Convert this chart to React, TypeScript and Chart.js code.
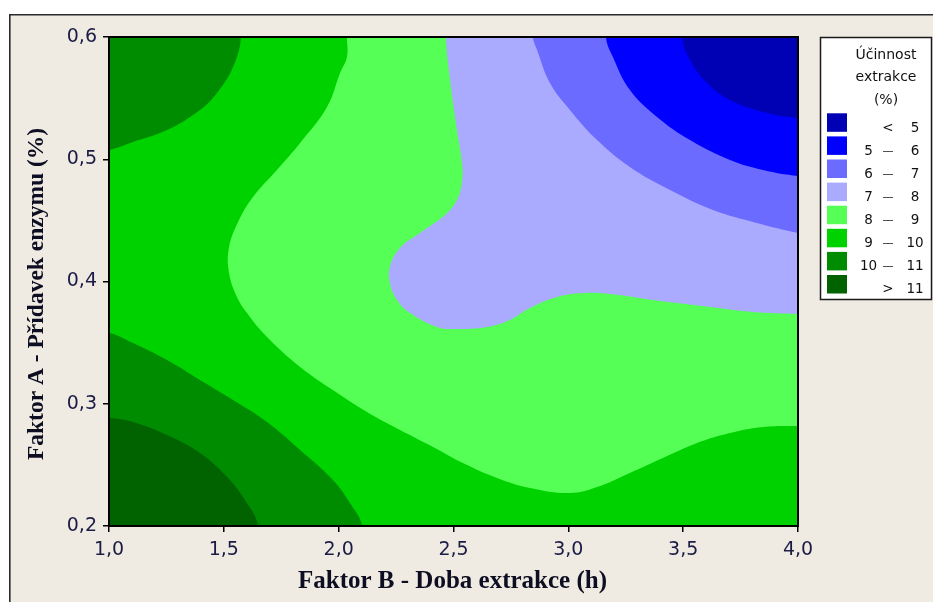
import React, { useEffect, useRef } from 'react';
import { Chart, registerables } from 'chart.js';

Chart.register(...registerables);

type Pt = [number, number];

// ---- data -------------------------------------------------------------
const LEVELS = [5, 6, 7, 8, 9, 10, 11];
const BAND_COLORS = ['#0000B4', '#0000FF', '#6B6BFF', '#AAAAFF', '#55FF55', '#00D200', '#008C00', '#006300'];
const LEGEND_TITLE = ['Účinnost', 'extrakce', '(%)'];
const X_TITLE = 'Faktor B - Doba extrakce (h)';
const Y_TITLE = 'Faktor A - Přídavek enzymu (%)';
const X_MIN = 1.0, X_MAX = 4.0, X_STEP = 0.5;
const Y_MIN = 0.2, Y_MAX = 0.6, Y_STEP = 0.1;

// contour regions (x = doba extrakce, y = přídavek enzymu)
const FIELD_9_10: Pt[] = [[0.7, 0.1], [0.65, 0.7], [4.3, 0.7], [4.3, 0.1]];
const OVER_10_LOW: Pt[] = [
  [0.7, 0.1], [0.65, 0.15], [0.85, 0.36], [1.0, 0.3579], [1.104, 0.3497], [1.253, 0.3358], [1.396, 0.3194],
  [1.540, 0.3031], [1.688, 0.2851], [1.832, 0.2622], [1.975, 0.2376], [2.049, 0.2188], [2.102, 0.2],
  [2.12, 0.15], [4.3, 0.1],
];
const OVER_11_LOW: Pt[] = [
  [0.7, 0.1], [0.65, 0.15], [0.85, 0.2885], [1.0, 0.2883], [1.104, 0.2851], [1.253, 0.2744], [1.396, 0.2597],
  [1.514, 0.2401], [1.583, 0.2237], [1.650, 0.2], [1.665, 0.15], [4.3, 0.1],
];
const OVER_10_HIGH: Pt[] = [
  [0.7, 0.75], [0.65, 0.7], [0.85, 0.504], [1.0, 0.5076], [1.104, 0.5141], [1.253, 0.5239], [1.396, 0.5403],
  [1.470, 0.5542], [1.540, 0.5755], [1.575, 0.6], [1.575, 0.65], [4.3, 0.75],
];
const UNDER_9: Pt[] = [
  [0.7, 0.75], [0.65, 0.7], [2.036, 0.65], [2.036, 0.6], [2.036, 0.5836], [2.006, 0.5706], [1.949, 0.5427],
  [1.832, 0.5133], [1.731, 0.4912], [1.627, 0.4691], [1.562, 0.4487], [1.522, 0.4274], [1.522, 0.4078],
  [1.553, 0.389], [1.601, 0.3742], [1.688, 0.3546], [1.832, 0.3301], [1.975, 0.3112], [2.123, 0.2933],
  [2.267, 0.2785], [2.411, 0.2646], [2.541, 0.2515], [2.689, 0.2393], [2.833, 0.2311], [3.007, 0.227],
  [3.125, 0.2319], [3.268, 0.2434], [3.412, 0.2556], [3.560, 0.2679], [3.704, 0.2761], [3.848, 0.281],
  [4.0, 0.2818], [4.15, 0.2818], [4.3, 0.75],
];
const UNDER_8: Pt[] = [
  [0.7, 0.75], [0.65, 0.7], [2.467, 0.65], [2.467, 0.6], [2.485, 0.5648], [2.515, 0.5239], [2.537, 0.4969],
  [2.537, 0.4814], [2.515, 0.4667], [2.463, 0.4544], [2.354, 0.4397], [2.267, 0.4274], [2.223, 0.4119],
  [2.223, 0.3988], [2.254, 0.3849], [2.311, 0.3742], [2.428, 0.3628], [2.498, 0.3611], [2.646, 0.3628],
  [2.746, 0.3685], [2.833, 0.3783], [2.951, 0.3873], [3.064, 0.3906], [3.181, 0.3898], [3.369, 0.3849],
  [3.586, 0.38], [3.804, 0.3751], [4.0, 0.3734], [4.15, 0.3725], [4.3, 0.75],
];
const UNDER_7: Pt[] = [
  [0.7, 0.75], [0.65, 0.7], [2.846, 0.65], [2.846, 0.6], [2.864, 0.5894], [2.920, 0.5624], [3.007, 0.5403],
  [3.125, 0.5157], [3.268, 0.4937], [3.443, 0.4748], [3.630, 0.4585], [3.821, 0.4479], [4.0, 0.4397],
  [4.15, 0.434], [4.3, 0.75],
];
const UNDER_6: Pt[] = [
  [0.7, 0.75], [0.65, 0.7], [3.164, 0.65], [3.164, 0.6], [3.194, 0.5836], [3.268, 0.5566], [3.386, 0.5346],
  [3.530, 0.5157], [3.704, 0.4994], [3.848, 0.4912], [4.0, 0.4863], [4.15, 0.485], [4.3, 0.75],
];
const UNDER_5: Pt[] = [
  [0.7, 0.75], [0.65, 0.7], [3.495, 0.65], [3.495, 0.6], [3.530, 0.5812], [3.604, 0.5624], [3.704, 0.5485],
  [3.848, 0.5387], [4.0, 0.5337], [4.15, 0.533], [4.3, 0.75],
];

// bottom -> top, band = index into BAND_COLORS
const LAYERS: { pts: Pt[]; band: number; smooth: boolean }[] = [
  { pts: FIELD_9_10, band: 5, smooth: false },
  { pts: OVER_10_LOW, band: 6, smooth: true },
  { pts: OVER_11_LOW, band: 7, smooth: true },
  { pts: OVER_10_HIGH, band: 6, smooth: true },
  { pts: UNDER_9, band: 4, smooth: true },
  { pts: UNDER_8, band: 3, smooth: true },
  { pts: UNDER_7, band: 2, smooth: true },
  { pts: UNDER_6, band: 1, smooth: true },
  { pts: UNDER_5, band: 0, smooth: true },
];

const fmt = (v: number | string) => Number(v).toFixed(1).replace('.', ',');

const decorPlugin = {
  id: 'decor',
  beforeDraw(chart: any) {
    const { ctx, width, height } = chart;
    ctx.save();
    ctx.fillStyle = '#FFFFFF';
    ctx.fillRect(0, 0, width, height);
    ctx.fillStyle = '#EFEBE2';
    ctx.fillRect(9, 14, width - 9, height - 14);
    ctx.strokeStyle = '#2A2A2A';
    ctx.lineWidth = 1.6;
    ctx.beginPath();
    ctx.moveTo(9.8, height);
    ctx.lineTo(9.8, 14.8);
    ctx.lineTo(width, 14.8);
    ctx.stroke();
    ctx.restore();
  },
  afterDraw(chart: any) {
    const { ctx, chartArea: a } = chart;
    ctx.save();
    // plot frame
    ctx.strokeStyle = '#000';
    ctx.lineWidth = 2;
    ctx.strokeRect(a.left, a.top, a.right - a.left, a.bottom - a.top);

    // axis titles
    ctx.fillStyle = '#0E0E22';
    ctx.textAlign = 'center';
    ctx.textBaseline = 'middle';
    ctx.font = 'bold 25px "Liberation Serif"';
    ctx.fillText(X_TITLE, (a.left + a.right) / 2 - 1, 582);
    ctx.save();
    ctx.font = 'bold 23.5px "Liberation Serif"';
    ctx.translate(37, 294);
    ctx.rotate(-Math.PI / 2);
    ctx.fillText(Y_TITLE, 0, 0);
    ctx.restore();

    // legend
    const lx = 820, ly = 37, lw = 111, lh = 262;
    ctx.fillStyle = '#FFFFFF';
    ctx.fillRect(lx, ly, lw, lh);
    ctx.strokeStyle = '#1A1A1A';
    ctx.lineWidth = 1.5;
    ctx.strokeRect(lx + 0.5, ly + 0.5, lw, lh);

    ctx.fillStyle = '#111111';
    ctx.font = '14px "DejaVu Sans"';
    ctx.textAlign = 'center';
    ctx.textBaseline = 'middle';
    LEGEND_TITLE.forEach((t, i) => ctx.fillText(t, 886, 55 + i * 22.5));

    ctx.textBaseline = 'alphabetic';
    BAND_COLORS.forEach((c, i) => {
      const top = 113.3 + i * 23.1;
      ctx.fillStyle = c;
      ctx.fillRect(827, top, 20, 18.5);
      ctx.fillStyle = '#111111';
      const base = top + 18.3;
      ctx.font = '13.5px "DejaVu Sans"';
      if (i === 0) {
        ctx.fillText('<', 888, base);
        ctx.fillText(String(LEVELS[0]), 915, base);
      } else if (i === BAND_COLORS.length - 1) {
        ctx.fillText('>', 888, base);
        ctx.fillText(String(LEVELS[LEVELS.length - 1]), 915, base);
      } else {
        ctx.fillText(String(LEVELS[i - 1]), 868.5, base);
        ctx.fillText(String(LEVELS[i]), 915, base);
        ctx.font = '11px "DejaVu Sans"';
        ctx.fillText('—', 888, base - 1);
      }
    });
    ctx.restore();
  },
};

export default function App() {
  const ref = useRef<HTMLCanvasElement | null>(null);
  useEffect(() => {
    if (!ref.current) return;
    const n = LAYERS.length;
    const chart = new Chart(ref.current, {
      type: 'line',
      data: {
        datasets: LAYERS.map((L, i) => ({
          data: L.pts.map(([x, y]) => ({ x, y })),
          backgroundColor: BAND_COLORS[L.band],
          borderColor: BAND_COLORS[L.band],
          borderWidth: 0,
          pointRadius: 0,
          pointHoverRadius: 0,
          fill: 'shape',
          tension: L.smooth ? 0.4 : 0,
          order: n - i,
        })) as any,
      },
      options: {
        animation: false,
        responsive: false,
        events: [],
        layout: { padding: { top: 37, right: 135, left: 0, bottom: 0 } },
        plugins: { legend: { display: false }, tooltip: { enabled: false }, title: { display: false } },
        scales: {
          x: {
            type: 'linear',
            min: X_MIN,
            max: X_MAX,
            ticks: {
              stepSize: X_STEP,
              callback: (v: any) => fmt(v),
              font: { family: 'DejaVu Sans', size: 19 },
              color: '#1B1B45',
              padding: 7,
              maxRotation: 0,
              autoSkip: false,
            },
            grid: { drawOnChartArea: false, drawTicks: true, tickLength: 6, color: '#000', lineWidth: 1.5 },
            border: { display: true, color: '#000', width: 2 },
            afterFit: (s: any) => { s.height = 76; },
          },
          y: {
            type: 'linear',
            min: Y_MIN,
            max: Y_MAX,
            ticks: {
              stepSize: Y_STEP,
              callback: (v: any) => fmt(v),
              font: { family: 'DejaVu Sans', size: 19 },
              color: '#1B1B45',
              padding: 6,
              autoSkip: false,
            },
            grid: { drawOnChartArea: false, drawTicks: true, tickLength: 6, color: '#000', lineWidth: 1.5 },
            border: { display: true, color: '#000', width: 2 },
            afterFit: (s: any) => { s.width = 109; },
          },
        },
      },
      plugins: [decorPlugin],
    });
    return () => chart.destroy();
  }, []);

  return (
    <div style={{ position: 'absolute', left: 0, top: 0, width: 933, height: 602 }}>
      <canvas ref={ref} width={933} height={602} style={{ display: 'block', width: 933, height: 602 }} />
    </div>
  );
}
